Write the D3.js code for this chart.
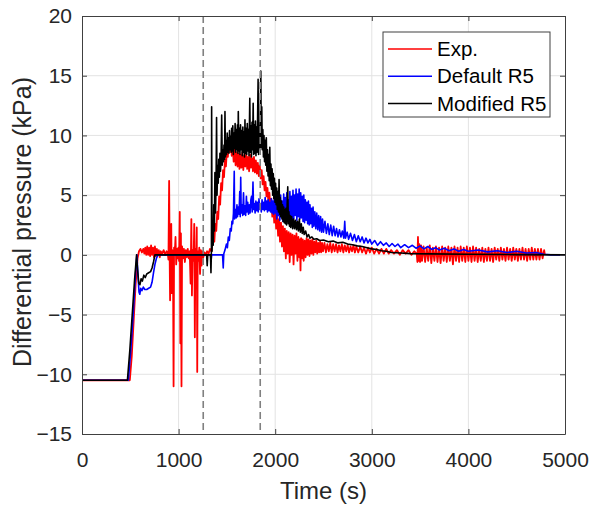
<!DOCTYPE html>
<html>
<head>
<meta charset="utf-8">
<script src="https://cdn.jsdelivr.net/npm/d3@7"></script>
<style>
body { margin: 0; background: #fff; }
text { font-family: "Liberation Sans", Arial, sans-serif; fill: #262626; }
</style>
</head>
<body>
<div id="chart"></div>
<script>
// ticks
const xTicks = [0, 1000, 2000, 3000, 4000, 5000];
const yTicks = [-15, -10, -5, 0, 5, 10, 15, 20];

// vertical dashed markers (s)
const markerTimes = [1255, 1845];

const seriesNames = ['Exp.', 'Default R5', 'Modified R5'];
const seriesColors = ['#ff0000', '#0000ff', '#000000'];
const seriesWidths = [1.8, 1.6, 1.6];

// [time (s), differential pressure (kPa)]
const expData = [
  [0,-10.5],[495,-10.5],[515,-8.5],[535,-5.5],[555,-2.5],[575,-0.3],[590,0.3],
  [605,0.5],[620,0.2],[635,0.5],[645,0.1],[655,0.6],[665,0.0],[675,0.7],[685,0.0],[695,0.6],[705,-0.1],[715,0.8],[725,0.0],[735,0.6],[745,-0.2],[755,0.7],[765,-0.1],[775,0.5],[785,0.0],[795,0.4],[805,-0.2],[815,0.3],[830,0.1],[845,0.4],[860,0.0],[875,0.3],[888,0.1],
  [895,-0.4],[902,6.2],[907,0.2],[912,-3.8],[918,0.5],[924,2.6],[929,-3.2],[935,0.4],[942,-0.6],[948,-11.0],[953,0.6],[960,0.0],[968,1.5],[975,-0.8],[983,0.5],[990,-0.3],[998,0.6],[1005,-0.5],[1012,3.6],[1018,-7.4],[1024,1.8],[1030,-11.0],[1036,0.7],[1045,-0.3],[1055,0.5],[1065,-0.6],[1075,0.4],[1085,-0.2],[1095,0.5],[1105,-0.3],[1115,0.3],[1124,-2.4],[1132,3.0],[1138,-3.4],[1145,0.4],[1155,-0.5],[1162,2.6],[1168,-6.9],[1174,0.5],[1182,-0.4],[1188,2.3],[1193,-9.8],[1198,0.3],[1206,-0.5],[1214,0.6],[1222,-1.6],[1230,0.4],[1238,-0.9],[1246,0.3],[1256,-0.2],[1268,0.2],[1280,0.0],[1295,0.3],[1310,0.1],[1325,0.5],[1340,0.3],[1350,0.9],
  [1360,1.6],[1370,1.1],[1380,2.6],[1390,2.0],[1400,3.6],[1410,3.0],[1420,4.9],[1430,4.2],[1440,6.0],[1450,5.4],[1460,7.1],[1470,6.5],[1480,8.0],[1490,7.4],[1500,8.8],[1510,8.2],[1520,9.4],[1530,8.6],[1540,9.6],[1550,8.3],[1560,9.1],[1570,7.8],[1580,8.8],[1590,7.5],[1600,8.6],[1610,7.4],[1620,8.5],[1630,7.2],[1640,8.4],[1650,7.3],[1660,8.6],[1670,7.1],[1680,8.3],[1690,7.4],[1700,8.5],[1710,7.2],[1720,8.2],[1730,7.0],[1740,8.4],[1750,7.3],[1760,8.1],[1770,7.0],[1780,8.2],[1790,6.9],[1800,7.9],[1810,6.8],[1820,7.7],[1830,6.6],[1840,7.5],[1850,6.4],[1860,7.1],[1870,5.9],[1880,6.6],[1890,5.4],[1900,6.1],[1910,4.9],[1920,5.6],[1930,4.3],[1940,5.2],[1950,3.8],[1960,4.7],[1970,3.2],[1980,4.2],[1990,2.7],[2000,3.8],[2010,2.2],[2020,3.4],[2030,1.6],[2040,3.0],[2050,1.1],[2060,2.7],[2070,0.7],[2080,2.4],[2090,0.3],[2100,2.2],[2110,-0.3],[2120,2.0],[2130,0.1],[2140,1.9],[2150,-0.6],[2160,1.8],[2170,0.0],[2180,1.7],[2190,-0.8],[2200,1.6],[2210,0.1],[2220,1.8],[2230,-0.5],[2240,1.5],[2250,-0.2],[2256,1.3],[2262,-1.3],[2268,1.4],[2276,-0.3],[2285,1.3],[2295,-0.5],[2305,1.2],[2315,-0.2],[2325,1.4],[2335,0.0],[2345,1.3],[2355,-0.1],[2365,1.2],[2375,0.1],[2385,1.3],[2395,0.0],[2405,1.1],[2415,0.2],[2425,1.2],[2435,0.1],[2445,1.0],[2455,0.2],[2465,1.1],[2475,0.2],[2485,1.0],[2495,0.3],[2510,1.0],[2525,0.2],[2540,0.9],[2555,0.3],[2570,1.0],[2585,0.2],[2600,0.9],[2615,0.3],[2630,0.9],[2645,0.2],[2660,0.8],[2675,0.3],[2690,0.9],[2705,0.2],[2720,0.8],[2735,0.3],[2750,0.8],[2765,0.2],[2780,0.7],[2795,0.3],[2810,0.8],[2825,0.2],[2840,0.7],[2860,0.2],[2880,0.7],[2900,0.2],[2920,0.6],[2940,0.1],[2960,0.6],[2980,0.2],[3000,0.6],[3025,0.1],[3050,0.5],[3075,0.1],[3100,0.5],[3125,0.1],[3150,0.5],[3175,0.1],[3200,0.4],[3230,0.1],[3260,0.4],[3290,0.0],[3320,0.4],[3350,0.1],[3380,0.4],[3410,0.0],[3440,0.3],[3465,0.1],
  [3472,-0.6],[3478,1.5],[3484,-0.5],[3492,0.9],[3500,-0.6],[3510,0.8],[3520,-0.5],[3536,0.7],[3552,-0.6],[3568,0.6],[3584,-0.5],[3600,0.8],[3616,-0.7],[3632,0.6],[3648,-0.5],[3664,0.7],[3680,-0.6],[3696,0.6],[3712,-0.7],[3728,0.7],[3744,-0.5],[3760,0.6],[3776,-0.6],[3792,0.7],[3808,-0.5],[3824,0.6],[3840,-0.8],[3856,0.7],[3872,-0.5],[3888,0.6],[3904,-0.6],[3920,0.7],[3936,-0.5],[3952,0.6],[3968,-0.6],[3984,0.7],[4000,-0.5],[4016,0.6],[4032,-0.6],[4048,0.7],[4064,-0.5],[4080,0.6],[4096,-0.6],[4112,0.5],[4128,-0.5],[4144,0.6],[4160,-0.6],[4176,0.5],[4192,-0.5],[4208,0.6],[4224,-0.5],[4240,0.5],[4256,-0.6],[4272,0.6],[4288,-0.4],[4304,0.5],[4320,-0.5],[4336,0.6],[4352,-0.4],[4368,0.5],[4384,-0.5],[4400,0.6],[4416,-0.4],[4432,0.5],[4448,-0.5],[4464,0.6],[4480,-0.4],[4496,0.5],[4512,-0.5],[4528,0.5],[4544,-0.4],[4560,0.6],[4576,-0.4],[4592,0.5],[4608,-0.5],[4624,0.5],[4640,-0.4],[4656,0.6],[4672,-0.4],[4688,0.5],[4704,-0.4],[4720,0.5],[4736,-0.4],[4752,0.5],[4768,-0.3],[4784,0.4],[4792,0.0]
];

const defaultData = [
  [0,-10.5],[480,-10.5],[505,-8],[530,-5],[555,-1.5],[568,0],[578,-1.5],[590,-3.1],[598,-3.3],[608,-2.8],[620,-3.0],[635,-2.7],[650,-2.9],[670,-2.9],[690,-2.8],[710,-2.7],[725,-2.3],[740,-1.5],[755,-0.8],[770,-0.3],[786,0],
  [1330,0],[1336,-0.5],[1342,0],[1455,0],[1462,-1.1],[1468,0.1],[1480,0.4],[1495,0.9],[1505,0.6],[1515,1.5],[1525,1.2],[1535,2.2],[1545,2.0],[1552,2.8],[1560,2.6],[1568,3.5],[1576,7.0],[1580,3.0],[1588,3.8],[1596,3.1],[1604,4.2],[1610,3.2],[1618,4.0],[1626,3.4],[1633,5.3],[1638,3.2],[1643,6.5],[1648,3.5],[1656,4.2],[1664,3.3],[1672,5.2],[1678,3.4],[1686,4.1],[1694,3.3],[1702,4.9],[1708,3.6],[1716,4.4],[1724,3.4],[1732,4.2],[1740,3.5],[1748,4.6],[1755,4.9],[1762,3.6],[1770,6.1],[1776,3.8],[1784,4.3],[1792,3.5],[1800,4.5],[1808,3.7],[1816,4.4],[1824,3.6],[1832,4.7],[1840,3.8],[1848,4.3],[1856,3.6],[1864,4.6],[1872,3.8],[1880,4.4],[1888,3.7],[1896,4.8],[1904,3.8],[1912,4.5],[1920,3.6],[1928,4.6],[1936,3.7],[1944,4.4],[1952,3.6],[1960,4.7],[1968,3.5],[1976,4.5],[1984,3.4],[1992,4.8],[2000,3.5],[2008,4.3],[2016,3.0],[2024,4.9],[2032,3.3],[2040,4.6],[2048,2.9],[2056,5.0],[2064,3.2],[2072,4.5],[2080,2.8],[2088,5.1],[2096,3.0],[2104,4.8],[2112,2.7],[2120,5.2],[2128,3.1],[2136,4.6],[2144,2.9],[2152,5.3],[2160,3.2],[2168,4.9],[2176,2.8],[2184,5.4],[2192,3.0],[2200,5.0],[2208,3.3],[2216,5.5],[2224,2.9],[2232,5.1],[2240,3.2],[2248,5.5],[2256,3.0],[2264,5.2],[2272,3.1],[2280,4.9],[2288,2.8],[2296,5.0],[2304,2.7],[2312,4.6],[2320,2.9],[2328,4.4],[2336,2.6],[2344,4.5],[2352,2.5],[2360,4.2],[2368,2.6],[2376,3.9],[2384,2.3],[2392,4.0],[2400,2.4],[2410,3.6],[2420,2.2],[2430,3.5],[2440,2.1],[2450,3.3],[2460,2.0],[2470,3.2],[2480,1.9],[2490,3.0],[2500,1.9],[2515,2.8],[2530,1.8],[2545,2.6],[2560,1.7],[2575,2.5],[2590,1.6],[2605,2.4],[2620,1.6],[2635,2.2],[2650,1.5],[2665,2.1],[2680,1.5],[2695,2.0],[2710,1.4],[2720,2.8],[2728,1.4],[2745,1.9],[2760,1.3],[2780,1.8],[2800,1.2],[2820,1.7],[2840,1.1],[2860,1.6],[2880,1.1],[2900,1.5],[2920,1.0],[2940,1.4],[2960,1.0],[2980,1.3],[3000,0.9],[3030,1.2],[3060,0.8],[3090,1.1],[3120,0.8],[3150,1.0],[3180,0.7],[3210,0.95],[3240,0.7],[3270,0.9],[3300,0.6],[3340,0.85],[3380,0.6],[3420,0.8],[3460,0.55],[3500,0.75],[3540,0.5],[3580,0.7],[3620,0.45],[3660,0.6],[3700,0.4],[3750,0.55],[3800,0.35],[3850,0.5],[3900,0.3],[3950,0.45],[4000,0.3],[4100,0.4],[4200,0.25],[4300,0.35],[4400,0.2],[4500,0.3],[4600,0.15],[4700,0.2],[4780,0.05],[4850,0],[5000,0]
];

const modifiedData = [
  [0,-10.5],[470,-10.5],[495,-8],[520,-5],[545,-2],[565,0],[575,-1.2],[588,-2.4],[600,-2.5],[612,-2.0],[625,-2.2],[640,-1.7],[655,-1.9],[670,-1.6],[690,-1.5],[710,-1.4],[725,-1.1],[740,-0.6],[755,0],
  [1290,0],[1296,-0.9],[1302,0],[1330,0],[1335,-1.5],[1340,0.5],[1342,12.4],[1346,0.3],[1352,2.5],[1358,0.8],[1364,4.2],[1370,2.0],[1376,6.9],[1382,3.5],[1388,6.0],[1393,11.5],[1398,5.0],[1404,7.5],[1410,6.0],[1416,8.0],[1422,6.5],[1428,8.5],[1434,7.0],[1440,8.2],[1446,11.7],[1452,7.5],[1458,8.8],[1464,7.8],[1470,9.2],[1476,8.0],[1480,12.0],[1485,8.2],[1491,9.6],[1497,8.4],[1503,10.2],[1509,8.6],[1515,9.8],[1521,8.5],[1527,10.4],[1533,8.8],[1539,9.9],[1545,8.6],[1549,10.6],[1555,8.7],[1561,10.8],[1567,8.4],[1573,10.2],[1579,8.9],[1585,11.0],[1591,8.6],[1597,10.5],[1603,8.8],[1609,10.9],[1614,8.5],[1618,12.0],[1623,8.7],[1629,10.6],[1635,8.4],[1641,10.9],[1647,8.8],[1653,10.4],[1659,8.3],[1665,10.7],[1671,8.6],[1677,10.3],[1682,8.2],[1687,11.3],[1693,8.5],[1699,10.6],[1705,8.4],[1711,11.0],[1717,8.7],[1723,10.5],[1729,8.3],[1737,13.1],[1742,8.6],[1748,10.8],[1754,8.2],[1760,11.1],[1766,8.8],[1772,12.7],[1777,8.4],[1783,10.9],[1789,8.5],[1795,11.2],[1801,8.3],[1807,10.7],[1813,8.6],[1818,11.6],[1823,14.7],[1828,8.4],[1834,10.8],[1840,8.9],[1846,11.8],[1851,15.4],[1856,9.0],[1861,12.4],[1866,8.8],[1872,10.5],[1878,8.2],[1884,10.0],[1890,7.8],[1896,9.6],[1902,7.5],[1908,9.8],[1914,7.0],[1920,8.8],[1926,6.6],[1932,8.4],[1938,6.2],[1944,9.0],[1950,5.8],[1956,7.6],[1962,5.5],[1968,7.2],[1974,5.0],[1980,6.8],[1986,4.7],[1992,6.4],[1998,4.4],[2004,6.0],[2010,4.2],[2016,5.6],[2022,3.8],[2028,5.3],[2034,3.6],[2040,6.3],[2046,3.4],[2052,4.8],[2058,3.2],[2064,4.5],[2070,3.0],[2076,4.2],[2082,2.8],[2088,4.0],[2094,2.7],[2100,3.8],[2106,2.6],[2112,3.9],[2118,2.5],[2124,4.2],[2130,5.7],[2136,2.6],[2142,3.6],[2148,2.4],[2154,3.3],[2160,2.3],[2170,3.2],[2180,2.2],[2190,3.0],[2200,2.2],[2210,2.9],[2220,2.1],[2230,2.8],[2240,2.0],[2250,3.0],[2260,1.9],[2270,2.6],[2280,1.8],[2290,2.3],[2300,1.7],[2315,2.0],[2330,1.5],[2345,1.7],[2360,1.4],[2380,1.5],[2400,1.3],[2430,1.35],[2460,1.2],[2500,1.25],[2550,1.1],[2600,1.15],[2650,1.0],[2700,1.05],[2750,0.9],[2800,0.85],[2850,0.75],[2900,0.7],[2950,0.6],[3000,0.5],[3050,0.45],[3100,0.35],[3150,0.3],[3200,0.2],[3300,0.15],[3400,0.1],[3600,0.08],[4000,0.05],[4500,0.02],[5000,0]
];

const allSeries = [expData, defaultData, modifiedData];

const width = 592, height = 507;
const margin = { top: 16, right: 27, bottom: 73, left: 82 };

const svg = d3.select('#chart').append('svg')
  .attr('width', width)
  .attr('height', height);

const x = d3.scaleLinear().domain([0, 5000]).range([margin.left, width - margin.right]);
const y = d3.scaleLinear().domain([-15, 20]).range([height - margin.bottom, margin.top]);

// grid
svg.append('g')
  .attr('stroke', '#e3e3e3')
  .selectAll('line')
  .data(xTicks.slice(1, -1))
  .join('line')
  .attr('x1', d => x(d)).attr('x2', d => x(d))
  .attr('y1', y(-15)).attr('y2', y(20));

svg.append('g')
  .attr('stroke', '#e3e3e3')
  .selectAll('line')
  .data(yTicks.slice(1, -1))
  .join('line')
  .attr('x1', x(0)).attr('x2', x(5000))
  .attr('y1', d => y(d)).attr('y2', d => y(d));

// data lines
svg.append('clipPath').attr('id', 'clip')
  .append('rect')
  .attr('x', x(0)).attr('y', y(20))
  .attr('width', x(5000) - x(0)).attr('height', y(-15) - y(20));

const line = d3.line().x(d => x(d[0])).y(d => y(d[1]));

svg.append('g')
  .attr('clip-path', 'url(#clip)')
  .attr('fill', 'none')
  .selectAll('path')
  .data(allSeries)
  .join('path')
  .attr('stroke', (d, i) => seriesColors[i])
  .attr('stroke-width', (d, i) => seriesWidths[i])
  .attr('stroke-linejoin', 'round')
  .attr('d', line);

// dashed markers
svg.append('g')
  .selectAll('line')
  .data(markerTimes)
  .join('line')
  .attr('x1', d => x(d)).attr('x2', d => x(d))
  .attr('y1', y(20)).attr('y2', y(-15))
  .attr('stroke', '#808080')
  .attr('stroke-width', 1.6)
  .attr('stroke-dasharray', '7,4');

// axes
function styleAxis(g) {
  g.attr('font-family', null).attr('font-size', null);
  g.select('.domain').attr('stroke', '#404040');
  g.selectAll('.tick line').attr('stroke', '#404040');
  g.selectAll('.tick text').style('font-size', '21px');
}

svg.append('g')
  .attr('transform', `translate(0,${y(-15)})`)
  .call(d3.axisBottom(x).tickValues(xTicks).tickSize(-5).tickSizeOuter(0).tickPadding(18).tickFormat(d3.format('d')))
  .call(styleAxis);

svg.append('g')
  .attr('transform', `translate(${x(0)},0)`)
  .call(d3.axisLeft(y).tickValues(yTicks).tickSize(-5).tickSizeOuter(0).tickPadding(10))
  .call(styleAxis);

svg.append('g')
  .attr('transform', `translate(0,${y(20)})`)
  .call(d3.axisTop(x).tickValues(xTicks).tickSize(-5).tickSizeOuter(0).tickFormat(''))
  .call(styleAxis);

svg.append('g')
  .attr('transform', `translate(${x(5000)},0)`)
  .call(d3.axisRight(y).tickValues(yTicks).tickSize(-5).tickSizeOuter(0).tickFormat(''))
  .call(styleAxis);

// axis labels
svg.append('text')
  .attr('x', (x(0) + x(5000)) / 2)
  .attr('y', 499)
  .attr('text-anchor', 'middle')
  .style('font-size', '24px')
  .text('Time (s)');

svg.append('text')
  .attr('transform', `translate(31,${(y(20) + y(-15)) / 2 - 3}) rotate(-90)`)
  .attr('text-anchor', 'middle')
  .style('font-size', '25px')
  .text('Differential pressure (kPa)');

// legend
const legend = svg.append('g');
legend.append('rect')
  .attr('x', 383).attr('y', 32)
  .attr('width', 167).attr('height', 85)
  .attr('fill', '#fff')
  .attr('stroke', '#404040');

const rows = legend.selectAll('g.row')
  .data(seriesNames)
  .join('g')
  .attr('class', 'row')
  .attr('transform', (d, i) => `translate(0,${49 + i * 27.3})`);

rows.append('line')
  .attr('x1', 388).attr('x2', 432)
  .attr('stroke', (d, i) => seriesColors[i])
  .attr('stroke-width', 1.5);

rows.append('text')
  .attr('x', 437)
  .attr('y', 7)
  .style('font-size', '20.5px')
  .style('fill', '#000')
  .text(d => d);
</script>
</body>
</html>
